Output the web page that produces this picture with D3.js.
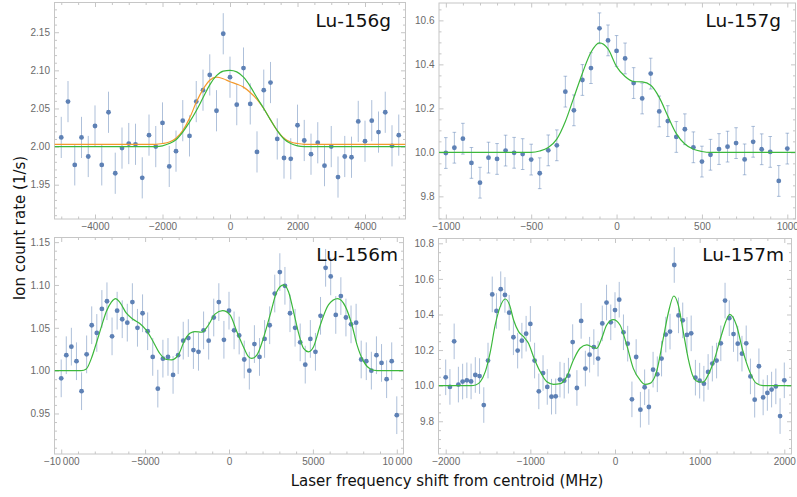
<!DOCTYPE html>
<html>
<head>
<meta charset="utf-8">
<script src="https://cdn.jsdelivr.net/npm/d3@7"></script>
<style>
  body { margin: 0; background: #fff; }
  svg { display: block; }
</style>
</head>
<body>
<svg id="chart" width="797" height="497"></svg>
<script>
// ---- data ----
const freq156g = [-5000, -4800, -4600, -4400, -4200, -4000, -3800, -3600, -3400, -3200, -3000, -2800, -2600, -2400, -2200, -2000, -1800, -1600, -1400, -1200, -1000, -800, -600, -400, -200, 0, 200, 400, 600, 800, 1000, 1200, 1400, 1600, 1800, 2000, 2200, 2400, 2600, 2800, 3000, 3200, 3400, 3600, 3800, 4000, 4200, 4400, 4600, 4800, 5000];
const rate156g = [2.012, 2.059, 1.976, 2.012, 1.987, 2.027, 1.976, 2.045, 1.965, 1.998, 2.004, 2.003, 1.959, 2.015, 2.000, 2.031, 1.974, 1.994, 2.034, 2.014, 2.059, 2.074, 2.094, 2.047, 2.148, 2.091, 2.055, 2.103, 2.056, 1.993, 2.074, 2.084, 2.010, 1.985, 1.984, 2.028, 2.008, 1.990, 2.005, 1.975, 2.000, 1.960, 1.987, 1.986, 2.033, 2.007, 2.034, 2.019, 2.045, 2.001, 2.015];

const freq157g = [-1000, -950, -900, -850, -800, -750, -700, -650, -600, -550, -500, -450, -400, -350, -300, -250, -200, -150, -100, -50, 0, 50, 100, 150, 200, 250, 300, 350, 400, 450, 500, 550, 600, 650, 700, 750, 800, 850, 900, 950, 1000];
const rate157g = [9.997, 10.021, 10.062, 9.952, 9.862, 9.976, 9.970, 10.008, 9.998, 9.992, 9.967, 9.905, 10.009, 10.032, 10.276, 10.191, 10.329, 10.383, 10.564, 10.509, 10.461, 10.427, 10.315, 10.245, 10.358, 10.186, 10.142, 10.070, 10.105, 10.023, 9.958, 9.989, 10.015, 10.026, 10.042, 9.968, 10.048, 10.014, 10.002, 9.870, 10.017];

const freq156m = [-10000, -9697, -9394, -9091, -8788, -8485, -8182, -7879, -7576, -7273, -6970, -6667, -6364, -6061, -5758, -5455, -5152, -4848, -4545, -4242, -3939, -3636, -3333, -3030, -2727, -2424, -2121, -1818, -1515, -1212, -909, -606, -303, 0, 303, 606, 909, 1212, 1515, 1818, 2121, 2424, 2727, 3030, 3333, 3636, 3939, 4242, 4545, 4848, 5152, 5455, 5758, 6061, 6364, 6667, 6970, 7273, 7576, 7879, 8182, 8485, 8788, 9091, 9394, 9697, 10000];
const rate156m = [0.991, 1.018, 1.028, 1.011, 0.976, 1.019, 1.053, 1.044, 1.072, 1.081, 1.040, 1.070, 1.060, 1.056, 1.080, 1.050, 1.067, 1.046, 1.016, 0.979, 1.014, 1.016, 0.995, 1.018, 1.035, 1.038, 1.024, 1.022, 1.047, 1.035, 1.062, 1.080, 1.036, 1.070, 1.047, 1.041, 1.013, 1.000, 1.031, 1.016, 1.037, 1.053, 1.090, 1.115, 1.099, 1.067, 1.050, 1.033, 1.007, 1.037, 1.022, 1.064, 1.120, 1.110, 1.065, 1.087, 1.062, 1.054, 1.056, 1.013, 1.011, 1.000, 1.018, 1.009, 0.990, 1.011, 0.948];

const freq157m = [-2000, -1950, -1900, -1850, -1800, -1750, -1700, -1650, -1600, -1550, -1500, -1450, -1400, -1350, -1300, -1250, -1200, -1150, -1100, -1050, -1000, -950, -900, -850, -800, -750, -700, -650, -600, -550, -500, -450, -400, -350, -300, -250, -200, -150, -100, -50, 0, 50, 100, 150, 200, 250, 300, 350, 400, 450, 500, 550, 600, 650, 700, 750, 800, 850, 900, 950, 1000, 1050, 1100, 1150, 1200, 1250, 1300, 1350, 1400, 1450, 1500, 1550, 1600, 1650, 1700, 1750, 1800, 1850, 1900, 1950, 2000];
const rate157m = [10.047, 9.993, 10.249, 10.006, 10.023, 10.030, 10.024, 10.060, 10.054, 9.891, 10.141, 10.513, 10.420, 10.542, 10.510, 10.410, 10.272, 10.197, 10.253, 10.292, 10.347, 10.141, 9.968, 10.071, 9.993, 9.938, 9.940, 10.034, 10.028, 10.056, 10.245, 9.987, 10.364, 10.096, 10.174, 10.217, 10.152, 10.350, 10.467, 10.356, 10.425, 10.483, 10.300, 10.236, 9.923, 10.161, 9.865, 9.991, 9.880, 10.090, 10.064, 10.152, 10.287, 10.304, 10.678, 10.395, 10.367, 10.285, 10.294, 10.045, 10.028, 10.011, 10.077, 10.124, 10.141, 10.238, 10.478, 10.379, 10.290, 10.236, 10.180, 10.238, 10.052, 9.921, 10.109, 9.934, 9.959, 9.978, 9.996, 9.829, 10.030];

// one error half-width per panel (156g, 157g, 156m, 157m)
const errHalf = [0.027, 0.07, 0.022, 0.1];

// fitted curves
const fit156gGreen = [[-5200, 2.000], [-2200, 2.000], [-2000, 2.001], [-1800, 2.004], [-1600, 2.009], [-1400, 2.019], [-1200, 2.032], [-1000, 2.047], [-800, 2.064], [-600, 2.081], [-400, 2.093], [-200, 2.099], [0, 2.100], [200, 2.098], [400, 2.091], [600, 2.079], [800, 2.064], [1000, 2.050], [1200, 2.035], [1400, 2.021], [1600, 2.010], [1800, 2.004], [2000, 2.001], [2200, 2.000], [5200, 2.000]];
const fit156gOrange = [[-5200, 2.003], [-2200, 2.003], [-2000, 2.004], [-1800, 2.006], [-1600, 2.011], [-1400, 2.021], [-1200, 2.037], [-1000, 2.058], [-800, 2.075], [-600, 2.087], [-400, 2.091], [-200, 2.089], [0, 2.085], [200, 2.082], [400, 2.078], [600, 2.071], [800, 2.062], [1000, 2.050], [1200, 2.035], [1400, 2.021], [1600, 2.011], [1800, 2.006], [2000, 2.004], [2200, 2.003], [5200, 2.003]];
const fit157g = [[-1040, 10.0], [-500, 10.0], [-450, 10.006], [-400, 10.022], [-350, 10.06], [-300, 10.14], [-250, 10.25], [-200, 10.36], [-150, 10.455], [-100, 10.498], [-50, 10.47], [0, 10.39], [50, 10.345], [100, 10.322], [150, 10.32], [200, 10.305], [250, 10.25], [300, 10.165], [350, 10.085], [400, 10.038], [450, 10.014], [500, 10.004], [550, 10.0], [1048, 10.0]];
const fit156m = [[-10400, 1.000], [-8800, 1.000], [-8505, 1.002], [-8207, 1.014], [-7908, 1.032], [-7609, 1.051], [-7310, 1.069], [-7012, 1.080], [-6753, 1.084], [-6514, 1.080], [-6115, 1.067], [-5717, 1.060], [-5318, 1.055], [-4920, 1.047], [-4522, 1.034], [-4123, 1.020], [-3725, 1.013], [-3426, 1.0125], [-3028, 1.018], [-2629, 1.036], [-2330, 1.0436], [-2032, 1.0456], [-1633, 1.0448], [-1235, 1.053], [-836, 1.066], [-378, 1.070], [60, 1.065], [458, 1.046], [857, 1.028], [1156, 1.0164], [1355, 1.0144], [1654, 1.018], [2052, 1.038], [2450, 1.065], [2849, 1.092], [3247, 1.100], [3546, 1.092], [3845, 1.069], [4144, 1.044], [4442, 1.026], [4741, 1.022], [5040, 1.028], [5438, 1.053], [5936, 1.077], [6474, 1.084], [6932, 1.075], [7331, 1.053], [7630, 1.030], [8028, 1.0105], [8426, 1.002], [8825, 1.000], [10400, 1.000]];
const fit157m = [[-2085, 10.0], [-1700, 10.0], [-1646, 10.004], [-1591, 10.022], [-1532, 10.079], [-1473, 10.19], [-1415, 10.341], [-1356, 10.444], [-1297, 10.487], [-1246, 10.454], [-1198, 10.369], [-1139, 10.304], [-1080, 10.275], [-1022, 10.238], [-963, 10.163], [-884, 10.079], [-805, 10.022], [-727, 10.0075], [-648, 10.011], [-570, 10.051], [-491, 10.144], [-413, 10.21], [-334, 10.229], [-275, 10.219], [-216, 10.21], [-157, 10.266], [-98, 10.341], [-20, 10.371], [59, 10.341], [138, 10.229], [216, 10.097], [295, 10.032], [354, 10.0075], [413, 10.013], [491, 10.079], [570, 10.266], [629, 10.407], [695, 10.504], [747, 10.454], [806, 10.304], [864, 10.154], [923, 10.051], [982, 10.022], [1041, 10.02], [1100, 10.06], [1179, 10.154], [1258, 10.285], [1356, 10.401], [1434, 10.341], [1513, 10.191], [1591, 10.079], [1670, 10.013], [1749, 10.0], [2085, 10.0]];

const panelNames = ["Lu-156g", "Lu-157g", "Lu-156m", "Lu-157m"];

// ---- layout ----
const BLUE = "#5E81B5", GREEN = "#3cb83c", ORANGE = "#f39a2c";
const FRAME = "#c6c6c6", TICKTXT = "#6a6a6a";

const panels = [
  { name: panelNames[0], freq: freq156g, rate: rate156g, err: errHalf[0],
    fits: [[fit156gOrange, ORANGE], [fit156gGreen, GREEN]], caps: false,
    box: { l: 54.5, t: 2.5, r: 405.5, b: 219 }, xd: [-5200, 5200], yd: [1.905, 2.189],
    xMaj: 2000, xMin: 500, yMaj: 0.05, yMin: 0.01, yFmt: ".2f", title: [391, 27] },
  { name: panelNames[1], freq: freq157g, rate: rate157g, err: errHalf[1],
    fits: [[fit157g, GREEN]], caps: true,
    box: { l: 439, t: 3, r: 795.5, b: 219 }, xd: [-1040, 1048], yd: [9.697, 10.679],
    xMaj: 500, xMin: 100, yMaj: 0.2, yMin: 0.05, yFmt: ".1f", title: [781, 27] },
  { name: panelNames[2], freq: freq156m, rate: rate156m, err: errHalf[2],
    fits: [[fit156m, GREEN]], caps: false,
    box: { l: 54.5, t: 237.5, r: 403.5, b: 454 }, xd: [-10400, 10400], yd: [0.9027, 1.1554],
    xMaj: 5000, xMin: 1000, yMaj: 0.05, yMin: 0.01, yFmt: ".2f", title: [398, 261] },
  { name: panelNames[3], freq: freq157m, rate: rate157m, err: errHalf[3],
    fits: [[fit157m, GREEN]], caps: false,
    box: { l: 438.5, t: 238.5, r: 791.5, b: 454 }, xd: [-2085, 2085], yd: [9.616, 10.827],
    xMaj: 1000, xMin: 200, yMaj: 0.2, yMin: 0.05, yFmt: ".1f", title: [784, 261] }
];

const svg = d3.select("#chart");
svg.append("rect").attr("width", 797).attr("height", 497).attr("fill", "#fff");

function tickRange(d, step) {
  const out = [];
  const start = Math.ceil(d[0] / step - 1e-9);
  for (let k = start; k * step <= d[1] + 1e-9; k++) out.push(+(k * step).toFixed(6));
  return out;
}

function fmtX(v) {
  const a = Math.abs(v);
  const s = a >= 10000 ? d3.format(",")(a).replace(",", "\u2009") : String(a);
  return (v < 0 ? "\u2212" : "") + s;
}

function styleAxis(g) {
  g.select(".domain").remove();
  g.selectAll(".tick line").attr("stroke", FRAME);
  g.selectAll("text").attr("fill", TICKTXT)
    .style("font-family", "'Liberation Sans', Arial, sans-serif")
    .style("font-size", "10px");
}

panels.forEach(function(p, i) {
  const b = p.box;
  const x = d3.scaleLinear().domain(p.xd).range([b.l, b.r]);
  const y = d3.scaleLinear().domain(p.yd).range([b.b, b.t]);
  const g = svg.append("g");

  const clipId = "clip" + i;
  svg.append("clipPath").attr("id", clipId)
    .append("rect").attr("x", b.l).attr("y", b.t).attr("width", b.r - b.l).attr("height", b.b - b.t);

  const xMajor = tickRange(p.xd, p.xMaj);
  const xMinor = tickRange(p.xd, p.xMin).filter(v => xMajor.indexOf(v) < 0);
  const yMajor = tickRange(p.yd, p.yMaj);
  const yMinor = tickRange(p.yd, p.yMin).filter(v => !yMajor.some(m => Math.abs(m - v) < 1e-6));

  // inward frame ticks, all four sides
  [[xMajor, 4.5, true], [xMinor, 2.5, false]].forEach(function(t) {
    g.append("g").attr("transform", `translate(0,${b.b})`)
      .call(d3.axisBottom(x).tickValues(t[0]).tickSize(-t[1]).tickPadding(4)
        .tickFormat(t[2] ? fmtX : () => ""))
      .call(styleAxis);
    g.append("g").attr("transform", `translate(0,${b.t})`)
      .call(d3.axisTop(x).tickValues(t[0]).tickSize(-t[1]).tickFormat(() => ""))
      .call(styleAxis);
  });
  [[yMajor, 4.5, true], [yMinor, 2.5, false]].forEach(function(t) {
    g.append("g").attr("transform", `translate(${b.l},0)`)
      .call(d3.axisLeft(y).tickValues(t[0]).tickSize(-t[1]).tickPadding(4.5)
        .tickFormat(t[2] ? d3.format(p.yFmt) : () => ""))
      .call(styleAxis);
    g.append("g").attr("transform", `translate(${b.r},0)`)
      .call(d3.axisRight(y).tickValues(t[0]).tickSize(-t[1]).tickFormat(() => ""))
      .call(styleAxis);
  });

  g.append("rect")
    .attr("x", b.l).attr("y", b.t).attr("width", b.r - b.l).attr("height", b.b - b.t)
    .attr("fill", "none").attr("stroke", FRAME).attr("stroke-width", 1);

  const data = p.freq.map((f, k) => ({ f: f, v: p.rate[k] }));
  const plot = g.append("g").attr("clip-path", `url(#${clipId})`);

  // error bars
  plot.selectAll("line.err").data(data).enter().append("line")
    .attr("class", "err")
    .attr("x1", d => x(d.f)).attr("x2", d => x(d.f))
    .attr("y1", d => y(d.v - p.err)).attr("y2", d => y(d.v + p.err))
    .attr("stroke", BLUE).attr("stroke-opacity", 0.5).attr("stroke-width", 1);

  if (p.caps) {
    [-1, 1].forEach(function(sgn) {
      plot.selectAll(null).data(data).enter().append("line")
        .attr("x1", d => x(d.f) - 1.8).attr("x2", d => x(d.f) + 1.8)
        .attr("y1", d => y(d.v + sgn * p.err)).attr("y2", d => y(d.v + sgn * p.err))
        .attr("stroke", BLUE).attr("stroke-opacity", 0.5).attr("stroke-width", 1);
    });
  }

  // points
  plot.selectAll("circle").data(data).enter().append("circle")
    .attr("cx", d => x(d.f)).attr("cy", d => y(d.v)).attr("r", 2.4)
    .attr("fill", BLUE);

  // fits
  const line = d3.line().x(d => x(d[0])).y(d => y(d[1])).curve(d3.curveMonotoneX);
  p.fits.forEach(function(fc) {
    plot.append("path").datum(fc[0])
      .attr("d", line).attr("fill", "none")
      .attr("stroke", fc[1]).attr("stroke-width", 1.2);
  });

  // panel label
  g.append("text")
    .attr("x", p.title[0]).attr("y", p.title[1])
    .attr("text-anchor", "end")
    .style("font-family", "'DejaVu Sans', sans-serif")
    .style("font-size", "18.5px")
    .attr("fill", "#111")
    .text(p.name);
});

// shared axis labels
svg.append("text")
  .attr("transform", "translate(25,228) rotate(-90)")
  .attr("text-anchor", "middle")
  .style("font-family", "'DejaVu Sans', sans-serif")
  .style("font-size", "15px")
  .attr("fill", "#111")
  .text("Ion count rate (1/s)");

svg.append("text")
  .attr("x", 447).attr("y", 486)
  .attr("text-anchor", "middle")
  .style("font-family", "'DejaVu Sans', sans-serif")
  .style("font-size", "15px")
  .attr("fill", "#111")
  .text("Laser frequency shift from centroid (MHz)");
</script>
</body>
</html>
